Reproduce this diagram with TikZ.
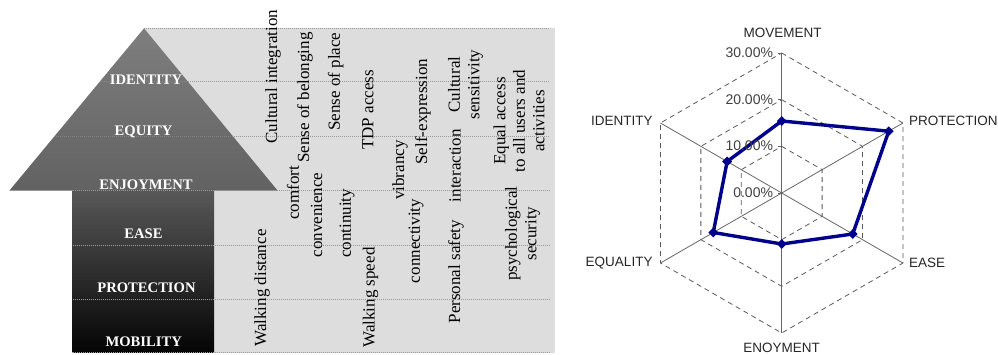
\documentclass[tikz,border=0pt]{standalone}
\usepackage{fontspec}
\setmainfont{Liberation Serif}
\newfontfamily\chartfont{Liberation Sans}
\usetikzlibrary{shapes.geometric}
\definecolor{panelgray}{RGB}{221,221,221}
\definecolor{headtop}{RGB}{126,126,126}
\definecolor{headbot}{RGB}{98,98,98}
\definecolor{shafttop}{RGB}{88,88,88}
\definecolor{shaftbot}{RGB}{4,4,4}
\definecolor{navyseries}{RGB}{0,0,140}
\begin{document}
\begin{tikzpicture}[x=1pt,y=-1pt,
  lvl/.style={text=white, font=\fontsize{14.6}{16}\selectfont\bfseries, inner sep=0pt, anchor=base},
  vtext/.style={rotate=90, font=\fontsize{17}{19.5}\selectfont, inner sep=0pt, align=center, text=black},
  rowline/.style={draw=gray!80, line width=0.7pt, dash pattern=on 1pt off 1pt},
  faintline/.style={draw=gray!60, line width=0.7pt, dash pattern=on 1pt off 1pt, opacity=0.35},
  ring/.style={draw=black!65, line width=0.8pt, dash pattern=on 5pt off 4pt},
  axisline/.style={draw=black!60, line width=0.8pt},
  series/.style={draw=navyseries, line width=3.4pt, line join=round},
  marker/.style={fill=navyseries, diamond, minimum size=10pt, inner sep=0pt},
  cat/.style={font=\chartfont\fontsize{13.5}{15}\selectfont, text=black!85, inner sep=0pt},
  ticklab/.style={font=\chartfont\fontsize{14}{15}\selectfont, text=black!75, inner sep=0pt, anchor=east},
]
\useasboundingbox (0,0) rectangle (998,354);

% panel behind the arrow
\fill[panelgray] (144,28.3) rectangle (555,352.5);
\foreach \yy in {28.3,81.7,136.7}
  \draw[rowline] (144,\yy) -- (549,\yy);

% arrow
\shade[top color=headtop, bottom color=headbot] (144,28.3) -- (277.7,190.7) -- (9.3,190.7) -- cycle;
\shade[top color=shafttop, bottom color=shaftbot] (72.7,190.7) rectangle (214,352.5);
\draw[faintline] (99.7,81.7) -- (188.3,81.7);
\draw[faintline] (54.1,136.7) -- (233.9,136.7);
\foreach \yy in {190.7,245,299,352}
  \draw[rowline] (72.7,\yy) -- (549,\yy);

% level labels
\node[lvl] (lid) at (146,84) {IDENTITY};
\node[lvl] (leq) at (143.5,135.5) {EQUITY};
\node[lvl] (len) at (146,189.3) {ENJOYMENT};
\node[lvl] (lea) at (143.5,238.3) {EASE};
\node[lvl] (lpr) at (146.5,292.5) {PROTECTION};
\node[lvl] (lmo) at (143.7,346.5) {MOBILITY};

% attributes
\node[vtext] (t1) at (262,288) {Walking distance};
\node[vtext] (t2) at (273,76.7) {Cultural integration};
\node[vtext] (t3) at (293,193) {comfort};
\node[vtext] (t4) at (305,97.5) {Sense of belonging};
\node[vtext] (t5) at (316.5,215) {convenience};
\node[vtext] (t6) at (335.8,81.7) {Sense of place};
\node[vtext] (t7) at (347,223.3) {continuity};
\node[vtext] (t8) at (370.5,297.5) {Walking speed};
\node[vtext] (t9) at (368,110) {TDP access};
\node[vtext] (t10) at (400,170) {vibrancy};
\node[vtext] (t11) at (416,241) {connectivity};
\node[vtext] (t12) at (423,111.7) {Self-expression};
\node[vtext] (t13) at (456,271.7) {Personal safety};
\node[vtext] (t14) at (455,165.8) {interaction};
\node[vtext] (t15) at (465.5,84.5) {Cultural\\sensitivity};
\node[vtext] (t16) at (519,121) {Equal access\\to all users and\\activities};
\node[vtext] (t17) at (522.5,233.5) {psychological\\security};

% radar chart
\begin{scope}[shift={(781.7,193)}]
  \foreach \r in {46.67,93.33,140}
    \draw[ring] (-90:\r) -- (-30:\r) -- (30:\r) -- (90:\r) -- (150:\r) -- (210:\r) -- cycle;
  \foreach \a in {-90,-30,30,90,150,210}
    \draw[axisline] (0,0) -- (\a:140);
  \foreach \r in {0,46.67,93.33,140}
    \draw[axisline] (-4,-\r) -- (0,-\r);
  \coordinate (pm) at (-90:72);
  \coordinate (pp) at (-30:123.6);
  \coordinate (pe) at (30:82);
  \coordinate (pj) at (90:51);
  \coordinate (pq) at (150:79);
  \coordinate (pi) at (210:63);
  \draw[series] (pm) -- (pp) -- (pe) -- (pj) -- (pq) -- (pi) -- cycle;
  \foreach \p in {pm,pp,pe,pj,pq,pi}
    \node[marker] at (\p) {};
  \node[ticklab] (k30) at (-8.5,-140.3) {30.00\%};
  \node[ticklab] (k20) at (-8.5,-93.6) {20.00\%};
  \node[ticklab] (k10) at (-8.5,-47) {10.00\%};
  \node[ticklab] (k0) at (-8.5,0) {0.00\%};
\end{scope}
\node[cat] (cmov) at (782.7,33) {MOVEMENT};
\node[cat, anchor=west] (cpro) at (909,121) {PROTECTION};
\node[cat, anchor=west] (cease) at (909,263) {EASE};
\node[cat] (cenj) at (781.7,348) {ENOYMENT};
\node[cat, anchor=east] (cequ) at (652.7,263) {EQUALITY};
\node[cat, anchor=east] (cide) at (652.7,121) {IDENTITY};
\end{tikzpicture}
\end{document}
